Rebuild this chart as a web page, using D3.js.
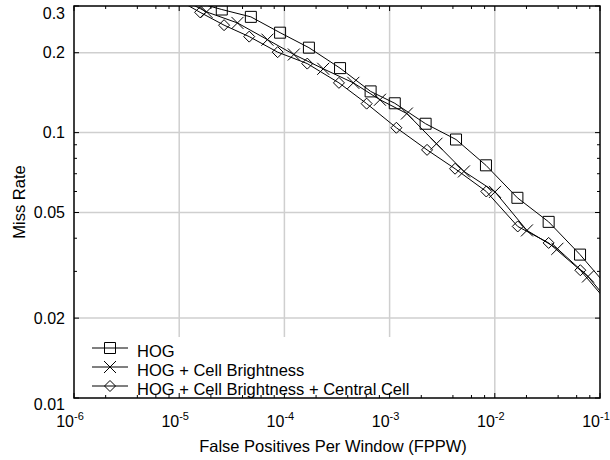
<!DOCTYPE html>
<html><head><meta charset="utf-8">
<script src="https://cdn.jsdelivr.net/npm/d3@7"></script>
<style>body{margin:0;background:#fff}svg{display:block}text{font-family:"Liberation Sans",Arial,sans-serif;fill:#000}</style>
</head><body><svg id="chart" width="610" height="460"></svg>
<script>
// ---- data ----
const seriesNames = ["HOG", "HOG + Cell Brightness", "HOG + Cell Brightness + Central Cell"];
const seriesMarkers = ["square", "cross", "diamond"];
const hogFppw = [1.35e-5, 2.54e-5, 4.8e-5, 9.1e-5, 1.71e-4, 3.38e-4, 6.6e-4, 1.12e-3, 2.2e-3, 4.28e-3, 8.24e-3, 1.64e-2, 3.25e-2, 6.46e-2, 1.27e-1];
const hogMiss = [0.312, 0.291, 0.273, 0.238, 0.209, 0.175, 0.143, 0.129, 0.108, 0.0942, 0.0753, 0.0568, 0.0461, 0.0347, 0.0254];
const cellFppw = [9.5e-6, 1.82e-5, 3.58e-5, 6.9e-5, 1.23e-4, 2.34e-4, 4.52e-4, 8.1e-4, 1.46e-3, 2.79e-3, 5.09e-3, 1.005e-2, 2.02e-2, 3.94e-2, 7.69e-2, 1.48e-1];
const cellMiss = [0.326, 0.285, 0.259, 0.224, 0.197, 0.174, 0.154, 0.133, 0.118, 0.0908, 0.0714, 0.0598, 0.0428, 0.0365, 0.0287, 0.0210];
const centralFppw = [8.55e-6, 1.58e-5, 2.67e-5, 4.63e-5, 8.63e-5, 1.65e-4, 3.30e-4, 6.05e-4, 1.16e-3, 2.27e-3, 4.19e-3, 8.3e-3, 1.652e-2, 3.25e-2, 6.5e-2, 1.27e-1];
const centralMiss = [0.326, 0.284, 0.254, 0.230, 0.201, 0.182, 0.154, 0.1286, 0.1043, 0.0861, 0.0731, 0.0600, 0.0443, 0.0384, 0.0303, 0.0222];

const xTickValues = [1e-6, 1e-5, 1e-4, 1e-3, 1e-2, 1e-1];
const xTickExponents = ["-6", "-5", "-4", "-3", "-2", "-1"];
const xMinorMultipliers = [2, 4, 6, 8];
const yTickValues = [0.01, 0.02, 0.05, 0.1, 0.2, 0.3];
const yTickLabels = ["0.01", "0.02", "0.05", "0.1", "0.2", "0.3"];
const yMinorTicks = [0.03, 0.04, 0.06, 0.07, 0.08, 0.09];
const yGridValues = [0.02, 0.05, 0.1, 0.2];
const xAxisTitle = "False Positives Per Window (FPPW)";
const yAxisTitle = "Miss Rate";

// ---- layout ----
const W = 610, H = 460;
const margin = {left: 74, top: 6, right: 10, bottom: 62};
const x = d3.scaleLog().domain([1e-6, 1e-1]).range([margin.left, W - margin.right]);
const y = d3.scaleLog().domain([0.01, 0.3]).range([H - margin.bottom, margin.top]);
const [x0, x1] = x.range(), [y0, y1] = y.range();

const svg = d3.select("#chart");
svg.append("defs").append("clipPath").attr("id", "plotclip")
  .append("rect").attr("x", x0).attr("y", y1).attr("width", x1 - x0).attr("height", y0 - y1);

// grid
const grid = svg.append("g").attr("stroke", "#cfcfcf").attr("stroke-width", 1.5);
grid.selectAll(".gx").data(xTickValues.slice(1, -1)).join("line")
  .attr("x1", d => x(d)).attr("x2", d => x(d)).attr("y1", y0).attr("y2", y1);
grid.selectAll(".gy").data(yGridValues).join("line")
  .attr("x1", x0).attr("x2", x1).attr("y1", d => y(d)).attr("y2", d => y(d));

// legend background (hides grid)
const legendRows = seriesNames.map((n, i) => ({name: n, marker: seriesMarkers[i], i}));

// data series
const series = [
  {fppw: hogFppw, miss: hogMiss},
  {fppw: cellFppw, miss: cellMiss},
  {fppw: centralFppw, miss: centralMiss}
].map((s, i) => ({name: seriesNames[i], marker: seriesMarkers[i], pts: s.fppw.map((f, j) => ({f, m: s.miss[j]}))}));

const line = d3.line().x(d => x(d.f)).y(d => y(d.m));
const markerPath = (type) => {
  if (type === "square") return "M-5.5,-5.5H5.5V5.5H-5.5Z";
  if (type === "diamond") return "M0,-5.5L5.5,0L0,5.5L-5.5,0Z";
  return "M-6,-6L6,6M-6,6L6,-6";
};

const plot = svg.append("g").attr("clip-path", "url(#plotclip)");
series.forEach(s => {
  plot.append("path").datum(s.pts).attr("d", line)
    .attr("fill", "none").attr("stroke", "#000").attr("stroke-width", 1);
  const inView = s.pts.filter(p => p.f >= x.domain()[0] && p.f <= x.domain()[1] && p.m >= y.domain()[0] && p.m <= y.domain()[1]);
  plot.selectAll(null).data(inView).join("path")
    .attr("transform", p => `translate(${x(p.f)},${y(p.m)})`)
    .attr("d", markerPath(s.marker))
    .attr("fill", "none").attr("stroke", "#000").attr("stroke-width", 1);
});

// legend
const lg = svg.append("g");
lg.append("rect").attr("x", x0 + 1).attr("y", 337).attr("width", 340).attr("height", y0 - 337 - 1).attr("fill", "#fff");
legendRows.forEach((r, i) => {
  const cy = 348 + i * 19;
  lg.append("line").attr("x1", 92).attr("x2", 128).attr("y1", cy).attr("y2", cy).attr("stroke", "#000");
  lg.append("path").attr("transform", `translate(110,${cy})`).attr("d", markerPath(r.marker))
    .attr("fill", "none").attr("stroke", "#000");
  lg.append("text").attr("x", 137).attr("y", cy + 9).attr("font-size", 16.5).text(r.name);
});

// frame
svg.append("rect").attr("x", x0).attr("y", y1).attr("width", x1 - x0).attr("height", y0 - y1)
  .attr("fill", "none").attr("stroke", "#000").attr("stroke-width", 1.5);

// ticks
const ticks = svg.append("g").attr("stroke", "#000").attr("stroke-width", 1);
const xMinor = xTickValues.slice(0, -1).flatMap(v => xMinorMultipliers.map(m => v * m));
[[xTickValues, 5], [xMinor, 3]].forEach(([vals, len]) => {
  ticks.selectAll(null).data(vals).join("line")
    .attr("x1", d => x(d)).attr("x2", d => x(d)).attr("y1", y0).attr("y2", y0 - len);
  ticks.selectAll(null).data(vals).join("line")
    .attr("x1", d => x(d)).attr("x2", d => x(d)).attr("y1", y1).attr("y2", y1 + len);
});
[[yTickValues, 5], [yMinorTicks, 3]].forEach(([vals, len]) => {
  ticks.selectAll(null).data(vals).join("line")
    .attr("y1", d => y(d)).attr("y2", d => y(d)).attr("x1", x0).attr("x2", x0 + len);
  ticks.selectAll(null).data(vals).join("line")
    .attr("y1", d => y(d)).attr("y2", d => y(d)).attr("x1", x1).attr("x2", x1 - len);
});

// tick labels
const xl = svg.append("g").selectAll("text").data(xTickValues).join("text")
  .attr("x", d => x(d) - 4).attr("y", y0 + 29).attr("text-anchor", "middle").attr("font-size", 16);
xl.append("tspan").text("10");
xl.append("tspan").attr("dy", -7).attr("font-size", 11).text((d, i) => xTickExponents[i]);

svg.append("g").selectAll("text").data(yTickValues).join("text")
  .attr("x", x0 - 9)
  .attr("y", (d, i) => {
    let py = y(d);
    if (i === 0) py += 6;
    py = Math.max(py, y1 + 7);
    return py + 5.5;
  })
  .attr("text-anchor", "end").attr("font-size", 16)
  .text((d, i) => yTickLabels[i]);

// axis titles
svg.append("text").attr("x", (x0 + x1) / 2 - 4).attr("y", 452).attr("text-anchor", "middle")
  .attr("font-size", 16.5).text(xAxisTitle);
svg.append("text").attr("transform", `translate(25,${(y0 + y1) / 2}) rotate(-90)`)
  .attr("text-anchor", "middle").attr("font-size", 16.5).text(yAxisTitle);
</script></body></html>
